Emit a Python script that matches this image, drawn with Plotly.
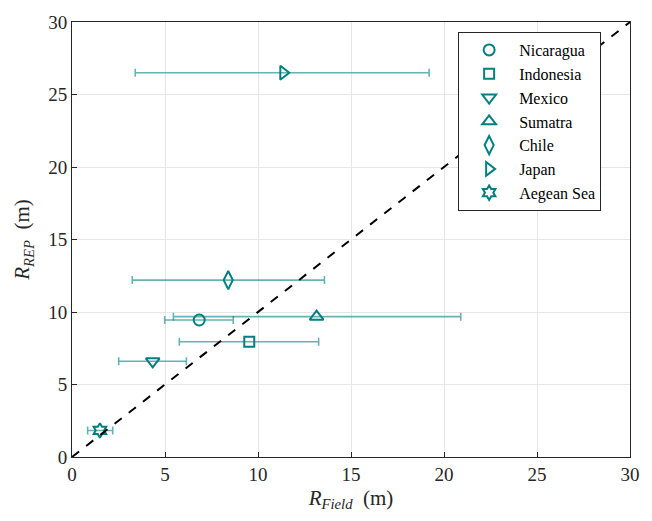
import plotly.graph_objects as go

sites = ["Nicaragua", "Indonesia", "Mexico", "Sumatra", "Chile", "Japan", "Aegean Sea"]
r_field = [6.84, 9.53, 4.34, 13.15, 8.4, 11.36, 1.5]
r_rep = [9.45, 7.95, 6.6, 9.68, 12.2, 26.5, 1.83]
field_lo = [4.98, 5.77, 2.51, 5.45, 3.24, 3.4, 0.84]
field_hi = [8.67, 13.26, 6.15, 20.9, 13.57, 19.2, 2.19]
symbols = ["circle-open", "square-open", "triangle-down-open", "triangle-up-open",
           "diamond-tall-open", "triangle-right-open", "hexagram-open"]
sizes = [11, 10, 12, 12, 13, 12, 11]

teal = "#008080"
font = "'Liberation Serif', serif"

fig = go.Figure()
for i, s in enumerate(sites):
    fig.add_trace(go.Scatter(
        x=[r_field[i]], y=[r_rep[i]], mode="markers", name=s,
        marker=dict(symbol=symbols[i], size=sizes[i], color=teal, line=dict(width=2, color=teal)),
        error_x=dict(type="data", symmetric=False,
                     array=[field_hi[i] - r_field[i]], arrayminus=[r_field[i] - field_lo[i]],
                     color="rgba(0,128,128,0.6)", thickness=1.6, width=4),
    ))

line_x = [0, 30]
fig.add_trace(go.Scatter(x=line_x, y=line_x, mode="lines", showlegend=False,
                         line=dict(color="black", width=2, dash="dash")))

axis_common = dict(range=[0, 30], dtick=5, showgrid=True, gridcolor="#e6e6e6", gridwidth=1,
                   showline=True, linecolor="#262626", linewidth=1, mirror=True,
                   ticks="inside", ticklen=5, tickcolor="#262626", zeroline=False,
                   tickfont=dict(family=font, size=19, color="#262626"))

fig.update_layout(
    width=652, height=521,
    margin=dict(l=72, r=22, t=19, b=63.5),
    plot_bgcolor="white", paper_bgcolor="white",
    font=dict(family=font),
    xaxis=dict(**axis_common, title=dict(text="<i>R</i><sub><i>Field</i></sub>  (m)",
                                         font=dict(family=font, size=21, color="#262626"), standoff=6)),
    yaxis=dict(**axis_common, title=dict(text="<i>R</i><sub><i>REP</i></sub>  (m)",
                                         font=dict(family=font, size=21, color="#262626"), standoff=12)),
    legend=dict(x=0.692, y=0.977, xanchor="left", yanchor="top", bgcolor="white",
                bordercolor="#262626", borderwidth=1, itemwidth=50,
                font=dict(family=font, size=16, color="black"), tracegroupgap=0),
    showlegend=True,
)

fig.write_html("out.html")
